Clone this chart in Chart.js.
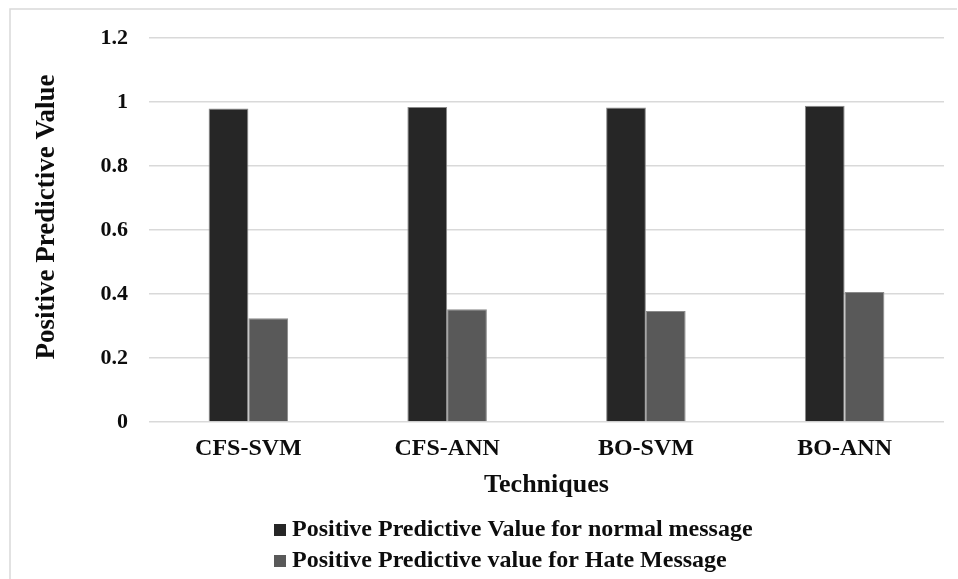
<!DOCTYPE html>
<html>
<head>
<meta charset="utf-8">
<script src="https://cdn.jsdelivr.net/npm/chart.js@4"></script>
<style>
  html, body { margin: 0; padding: 0; background: #ffffff; }
  #wrap { width: 958px; height: 579px; position: relative; }
</style>
</head>
<body>
<div id="wrap"><canvas id="c" width="958" height="579"></canvas></div>
<script>
// Techniques compared
const categories = ['CFS-SVM', 'CFS-ANN', 'BO-SVM', 'BO-ANN'];
// Positive predictive value per technique
const normalPPV = [0.980, 0.984, 0.983, 0.988];
const hatePPV = [0.324, 0.352, 0.347, 0.406];
const seriesNames = [
  'Positive Predictive Value for normal message',
  'Positive Predictive value for Hate Message'
];
const yTickValues = [0, 0.2, 0.4, 0.6, 0.8, 1, 1.2];
const yTitle = 'Positive Predictive Value';
const xTitle = 'Techniques';

const SERIF = "'Liberation Serif', 'Times New Roman', serif";
const TEXT = '#0d0d0d';
const GRID = '#d9d9d9';

// Light frame (top and left edges) around the figure
const framePlugin = {
  id: 'frame',
  beforeDraw(chart) {
    const ctx = chart.ctx;
    ctx.save();
    ctx.fillStyle = '#ffffff';
    ctx.fillRect(0, 0, chart.width, chart.height);
    ctx.strokeStyle = GRID;
    ctx.lineWidth = 1.5;
    ctx.beginPath();
    ctx.moveTo(10, chart.height);
    ctx.lineTo(10, 9);
    ctx.lineTo(chart.width - 1, 9);
    ctx.stroke();
    ctx.restore();
  }
};

// Vertical axis title
const yTitlePlugin = {
  id: 'yTitle',
  afterDraw(chart, args, opts) {
    const ctx = chart.ctx;
    ctx.save();
    ctx.translate(opts.x, opts.y);
    ctx.rotate(-Math.PI / 2);
    ctx.font = 'bold 27px ' + SERIF;
    ctx.fillStyle = TEXT;
    ctx.textAlign = 'center';
    ctx.textBaseline = 'middle';
    ctx.fillText(yTitle, 0, 0);
    ctx.restore();
  }
};

// Stacked legend below the axis title, entries left-aligned
const stackedLegendPlugin = {
  id: 'stackedLegend',
  afterDraw(chart, args, opts) {
    const ctx = chart.ctx;
    const area = chart.chartArea;
    ctx.save();
    ctx.font = 'bold 24px ' + SERIF;
    ctx.textBaseline = 'middle';
    ctx.textAlign = 'left';
    chart.data.datasets.forEach((ds, i) => {
      const cy = area.bottom + opts.firstRow + i * opts.rowGap;
      ctx.fillStyle = ds.backgroundColor;
      ctx.fillRect(opts.x, cy - 6, 12, 12);
      ctx.fillStyle = TEXT;
      ctx.fillText(ds.label, opts.x + 18, cy);
    });
    ctx.restore();
  }
};

new Chart(document.getElementById('c'), {
  type: 'bar',
  data: {
    labels: categories,
    datasets: [
      {
        label: seriesNames[0],
        data: normalPPV,
        backgroundColor: '#262626',
        borderColor: '#8a8a8a',
        borderWidth: 1,
        categoryPercentage: 0.4,
        barPercentage: 1.0
      },
      {
        label: seriesNames[1],
        data: hatePPV,
        backgroundColor: '#595959',
        borderColor: '#8a8a8a',
        borderWidth: 1,
        categoryPercentage: 0.4,
        barPercentage: 1.0
      }
    ]
  },
  options: {
    responsive: false,
    animation: false,
    devicePixelRatio: 1,
    layout: { padding: { left: 0, right: 14, top: 38, bottom: 0 } },
    plugins: {
      legend: { display: false },
      tooltip: { enabled: false },
      yTitle: { x: 47, y: 217 },
      stackedLegend: { x: 274, firstRow: 108, rowGap: 31 }
    },
    scales: {
      x: {
        grid: { display: false, drawTicks: false },
        border: { display: false },
        ticks: {
          color: TEXT,
          padding: 12,
          font: { family: SERIF, size: 24, weight: 'bold' }
        },
        title: {
          display: true,
          text: xTitle,
          color: TEXT,
          font: { family: SERIF, size: 26, weight: 'bold' },
          padding: { top: 0, bottom: 78 }
        },
        afterFit(scale) { scale.height = 157; }
      },
      y: {
        min: 0,
        max: 1.2,
        afterBuildTicks(scale) {
          scale.ticks = yTickValues.map(v => ({ value: v }));
        },
        grid: { color: GRID, lineWidth: 1.5, drawTicks: false },
        border: { display: false },
        ticks: {
          color: TEXT,
          padding: 21,
          font: { family: SERIF, size: 22, weight: 'bold' },
          callback: v => String(Math.round(v * 10) / 10)
        },
        afterFit(scale) { scale.width = 149; }
      }
    }
  },
  plugins: [framePlugin, yTitlePlugin, stackedLegendPlugin]
});
</script>
</body>
</html>
